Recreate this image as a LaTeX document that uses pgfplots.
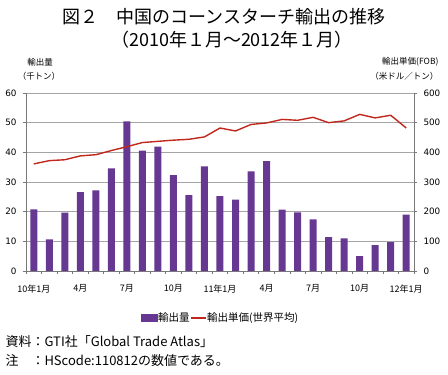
\documentclass[border=0pt]{standalone}
\usepackage{fontspec}
\setmainfont{Noto Sans CJK JP}
\newfontfamily\dv{DejaVu Sans}
\usepackage{pgfplots}
\pgfplotsset{compat=1.18}
\definecolor{barc}{RGB}{102,56,146}
\definecolor{linec}{RGB}{192,40,30}
\definecolor{gridc}{RGB}{165,165,165}
\definecolor{axc}{RGB}{120,120,120}
\pgfplotstableread{
x vol price
0 20.8 361
1 10.7 372
2 19.7 375
3 26.6 388
4 27.2 392
5 34.6 406
6 50.4 419
7 40.6 433
8 41.9 437
9 32.3 441
10 25.6 444
11 35.3 452
12 25.2 482
13 24.1 472
14 33.6 494
15 37.0 499
16 20.7 511
17 19.8 508
18 17.4 518
19 11.4 500
20 11.0 506
21 5.0 528
22 8.7 516
23 9.7 525
24 19.0 482
}\datatable
\begin{document}
\begin{tikzpicture}[x=1pt,y=1pt]
\begin{axis}[
  at={(26pt,104pt)}, anchor=south west,
  scale only axis, width=388pt, height=178pt,
  xmin=-0.5, xmax=24.5, ymin=0, ymax=60,
  axis y line*=left, axis x line*=bottom,
  axis line style={axc, line width=0.8pt},
  ytick={0,10,...,60},
  ymajorgrids, grid style={gridc, line width=0.8pt},
  tick align=outside, major tick length=3pt,
  tick style={axc, line width=0.6pt},
  xtick={-0.5,0.5,...,24.5}, xticklabels={},
  extra x ticks={0,3,...,24},
  extra x tick labels={10年1月,4月,7月,10月,11年1月,4月,7月,10月,12年1月},
  extra x tick style={major tick length=0pt, xticklabel style={yshift=-10pt}},
  xticklabel style={font=\fontsize{9}{9}\selectfont},
  yticklabel style={font=\dv\fontsize{8.8}{9}\selectfont, xshift=-3pt},
  /pgf/number format/assume math mode=true,
]
\addplot[ybar, bar width=7pt, fill=barc, draw=none] table[x=x, y=vol] {\datatable};
\end{axis}
\begin{axis}[
  at={(26pt,104pt)}, anchor=south west,
  scale only axis, width=388pt, height=178pt,
  xmin=-0.5, xmax=24.5, ymin=0, ymax=600,
  axis y line*=right, axis x line=none,
  axis line style={axc, line width=0.8pt},
  ytick={0,100,...,600},
  tick align=outside, major tick length=3pt,
  tick style={axc, line width=0.6pt},
  yticklabel style={font=\dv\fontsize{8.8}{9}\selectfont, xshift=3pt},
  /pgf/number format/assume math mode=true,
  legend style={draw=none, at={(0.50,-0.265)}, anchor=center,
    font=\fontsize{10.5}{11}\selectfont, legend columns=2,
    inner sep=0pt, nodes={inner xsep=0.5pt},
    /tikz/every even column/.append style={column sep=0pt}},
]
\addlegendimage{legend image code/.code={\fill[barc] (0pt,-3.5pt) rectangle (16pt,3.5pt);}}
\addlegendentry{輸出量}
\addplot[linec, line width=1.4pt, legend image code/.code={\draw[linec, line width=1.4pt] (0pt,0pt) -- (15pt,0pt);}] table[x=x, y=price] {\datatable};
\addlegendentry{輸出単価(世界平均)}
\end{axis}
\node at (224pt,358pt) {\fontsize{18}{20}\selectfont 図２　中国のコーンスターチ輸出の推移};
\node at (232pt,335pt) {\fontsize{18}{20}\selectfont （2010年１月～2012年１月）};
\node[font=\fontsize{8.5}{9}\selectfont] at (40pt,313pt) {輸出量};
\node[font=\fontsize{8.5}{9}\selectfont] at (39pt,299pt) {（千トン）};
\node[font=\fontsize{8.5}{9}\selectfont, anchor=east] at (442pt,313pt) {輸出単価(FOB)};
\node[font=\fontsize{8.5}{9}\selectfont, anchor=east] at (442pt,299pt) {（米ドル／トン）};
\node[font=\fontsize{13}{13}\selectfont, anchor=west] at (2pt,33pt) {資料：GTI社「Global Trade Atlas」};
\node[font=\fontsize{13}{13}\selectfont, anchor=west] at (2pt,14pt) {注　：HScode:110812の数値である。};
\pgfresetboundingbox
\path (0,0) rectangle (448pt,375pt);
\end{tikzpicture}
\end{document}
